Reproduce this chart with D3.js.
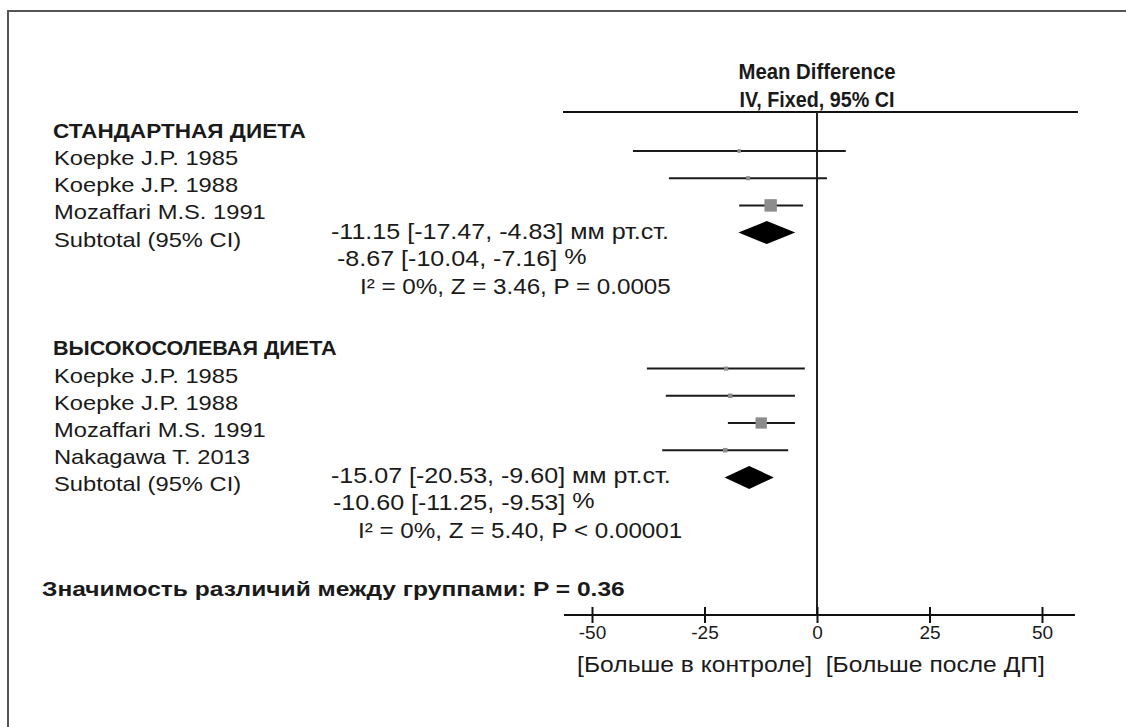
<!DOCTYPE html>
<html>
<head>
<meta charset="utf-8">
<script src="https://cdn.jsdelivr.net/npm/d3@7"></script>
<style>
  body { margin: 0; background: #fff; }
  svg { display: block; }
  text { font-family: "Liberation Sans", Arial, sans-serif; fill: #1a1a1a; }
</style>
</head>
<body>
<svg id="chart" width="1126" height="727"></svg>
<script>
// ---- data ----
const groupTitles = ["СТАНДАРТНАЯ ДИЕТА", "ВЫСОКОСОЛЕВАЯ ДИЕТА"];

const stdStudies = ["Koepke J.P. 1985", "Koepke J.P. 1988", "Mozaffari M.S. 1991"];
const stdMean    = [-17.3, -15.3, -10.3];
const stdLow     = [-40.9, -32.9, -17.3];
const stdHigh    = [6.4, 2.2, -3.1];
const stdWeight  = [7, 9, 84];

const saltStudies = ["Koepke J.P. 1985", "Koepke J.P. 1988", "Mozaffari M.S. 1991", "Nakagawa T. 2013"];
const saltMean    = [-20.2, -19.3, -12.4, -20.4];
const saltLow     = [-37.8, -33.6, -19.8, -34.4];
const saltHigh    = [-2.7, -4.9, -4.9, -6.4];
const saltWeight  = [9, 11, 69, 11];

// pooled effects, mm Hg and percent
const subtotalMean = [-11.15, -15.07];
const subtotalLow  = [-17.47, -20.53];
const subtotalHigh = [-4.83, -9.60];
const pctMean = [-8.67, -10.60];
const pctLow  = [-10.04, -11.25];
const pctHigh = [-7.16, -9.53];
const heterogeneity = ["I² = 0%, Z = 3.46, P = 0.0005", "I² = 0%, Z = 5.40, P < 0.00001"];

const subgroupTest = "Значимость различий между группами: P = 0.36";
const axisTicks = [-50, -25, 0, 25, 50];
const favourLabel = "[Больше в контроле]\u00A0\u00A0[Больше после ДП]";
const headerLines = ["Mean Difference", "IV, Fixed, 95% CI"];

// ---- layout ----
const svg = d3.select("#chart");
const SX = 1.13;            // horizontal widening of the lettering
const panelLeft = 563, panelRight = 1078;
const headerY = 112, axisY = 615;

const x = d3.scaleLinear().domain([-50, 50]).range([592, 1042]);
const row = d3.scaleLinear().domain([0, 1]).range([151, 178.2]);
const markSide = d3.scaleSqrt().domain([0, 100]).range([0, 13.6]);

function label(g, px, py, str, opts = {}) {
  const t = g.append("text")
    .attr("transform", `translate(${px},${py}) scale(${opts.sx ?? SX},1)`)
    .attr("font-size", opts.size ?? 21)
    .attr("font-weight", opts.bold ? "bold" : null)
    .attr("text-anchor", opts.anchor ?? "start")
    .text(str);
  return t;
}

// frame
svg.append("path")
  .attr("d", "M7,11H1126M8,11V727")
  .attr("fill", "none").attr("stroke", "#555").attr("stroke-width", 2);

// column header
headerLines.forEach((s, i) => {
  svg.append("text")
    .attr("x", x(0)).attr("y", [79, 107][i])
    .attr("text-anchor", "middle")
    .attr("font-family", "'Liberation Sans Narrow','Arial Narrow','DejaVu Sans Condensed',sans-serif")
    .attr("font-weight", "bold").attr("font-size", 22.5)
    .attr("textLength", [157, 155][i]).attr("lengthAdjust", "spacingAndGlyphs")
    .text(s);
});
svg.append("line")
  .attr("x1", panelLeft).attr("x2", panelRight)
  .attr("y1", headerY).attr("y2", headerY)
  .attr("stroke", "#111").attr("stroke-width", 2);

// line of no effect
svg.append("line")
  .attr("x1", x(0)).attr("x2", x(0))
  .attr("y1", headerY).attr("y2", axisY)
  .attr("stroke", "#222").attr("stroke-width", 2);

const groups = [
  { studies: stdStudies, mean: stdMean, low: stdLow, high: stdHigh, w: stdWeight, start: 0 },
  { studies: saltStudies, mean: saltMean, low: saltLow, high: saltHigh, w: saltWeight, start: 8 }
];

const fmt = v => v.toFixed(2);

groups.forEach((grp, gi) => {
  const g = svg.append("g");
  label(g, 53, row(grp.start - 1) + 14, groupTitles[gi], { bold: true, size: 20, sx: gi === 0 ? 1.13 : 1.08 });

  grp.studies.forEach((name, i) => {
    const yy = row(grp.start + i);
    label(g, 54, yy + 14, name);
    g.append("line")
      .attr("x1", x(grp.low[i])).attr("x2", x(grp.high[i]))
      .attr("y1", yy).attr("y2", yy)
      .attr("stroke", "#1a1a1a").attr("stroke-width", 2);
    const s = markSide(grp.w[i]);
    g.append("rect")
      .attr("x", x(grp.mean[i]) - s / 2).attr("y", yy - s / 2)
      .attr("width", s).attr("height", s)
      .attr("fill", "#8c8c8c");
  });

  // pooled estimate
  const sy = row(grp.start + grp.studies.length);
  label(g, 54, sy + 14, "Subtotal (95% CI)");
  const h = 11.5;
  g.append("path")
    .attr("d", `M${x(subtotalLow[gi])},${sy}L${x(subtotalMean[gi])},${sy - h}L${x(subtotalHigh[gi])},${sy}L${x(subtotalMean[gi])},${sy + h}Z`)
    .attr("fill", "#000");

  const stat = { size: 22, sx: 1.14 };
  label(g, 331, sy + 6,
    `${fmt(subtotalMean[gi])} [${fmt(subtotalLow[gi])}, ${fmt(subtotalHigh[gi])}] мм рт.ст.`, stat);
  const t2 = label(g, gi === 0 ? 337 : 333, sy + 33,
    `${fmt(pctMean[gi])} [${fmt(pctLow[gi])}, ${fmt(pctHigh[gi])}]\u00A0`, stat);
  t2.append("tspan").attr("dy", -2).text("%");
  label(g, gi === 0 ? 360 : 358, sy + 61, heterogeneity[gi], { size: 22, sx: 1.1 });
});

// test for subgroup differences
label(svg, 42, 596, subgroupTest, { bold: true, size: 21, sx: 1.17 });

// axis
svg.append("line")
  .attr("x1", panelLeft + 1).attr("x2", panelRight - 3)
  .attr("y1", axisY).attr("y2", axisY)
  .attr("stroke", "#111").attr("stroke-width", 2);

const axis = d3.axisBottom(x).tickValues(axisTicks).tickFormat(d => String(d)).tickSize(8);
const ag = svg.append("g").attr("transform", `translate(0,${axisY})`).call(axis);
ag.select(".domain").remove();
ag.selectAll(".tick line").attr("y1", -8).attr("y2", 8).attr("stroke", "#111").attr("stroke-width", 2);
ag.selectAll(".tick text")
  .attr("y", 24).attr("dy", null)
  .attr("font-family", "'Liberation Sans', Arial, sans-serif")
  .attr("font-size", 19).attr("fill", "#1a1a1a");

label(svg, 811, 672, favourLabel, { anchor: "middle", size: 22, sx: 1.12 });
</script>
</body>
</html>
